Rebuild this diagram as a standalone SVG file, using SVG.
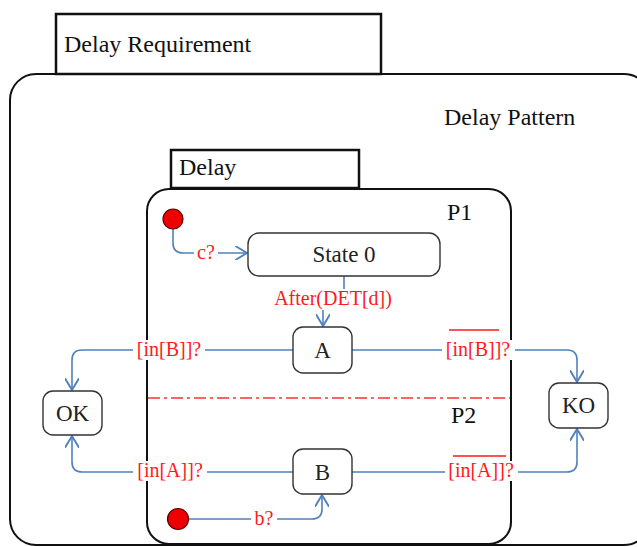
<svg xmlns="http://www.w3.org/2000/svg" width="637" height="547" viewBox="0 0 637 547">
<style>
text{font-family:"Liberation Serif","Times New Roman",serif}
.title{font-size:24px;fill:#111}
.node rect{fill:#fff;stroke:#333;stroke-width:1.4}
.node text{font-size:23px;fill:#222;text-anchor:middle}
.conn{fill:none;stroke:#4f81bd;stroke-width:1.6}
.lbl{font-size:20px;fill:#ff1a1a;text-anchor:middle}
.bg{fill:#fff}
.init{fill:#ee0000;stroke:#5a0000;stroke-width:1.2}
</style>
<defs>
<marker id="arr" markerUnits="userSpaceOnUse" markerWidth="14" markerHeight="14" refX="11" refY="6" orient="auto" viewBox="0 0 12 12">
<path d="M1,0 L11,6 L1,12" fill="none" stroke="#4f81bd" stroke-width="1.6"/>
</marker>
</defs>
<rect width="637" height="547" fill="#fff"/>

<g id="delay-pattern">
<rect x="10" y="74" width="640" height="471" rx="26" fill="none" stroke="#111" stroke-width="2"/>
<text class="title" x="444" y="125">Delay Pattern</text>
</g>
<g id="delay-requirement">
<rect x="56" y="14" width="325" height="60" fill="#fff" stroke="#111" stroke-width="2.5"/>
<text class="title" x="64" y="52">Delay Requirement</text>
</g>
<g id="delay">
<rect x="147" y="189" width="364" height="355" rx="22" fill="none" stroke="#111" stroke-width="2"/>
<rect x="171" y="150" width="188" height="38" fill="#fff" stroke="#111" stroke-width="2.5"/>
<text class="title" x="179" y="175">Delay</text>
<text class="title" x="447" y="220">P1</text>
<text class="title" x="451" y="423">P2</text>
<line x1="148" y1="398" x2="510" y2="398" stroke="#ff3030" stroke-width="1.6" stroke-dasharray="12,4,3,4"/>
</g>

<g id="connectors">
<path class="conn" d="M173,229 V243 Q173,253 183,253 H247" marker-end="url(#arr)"/>
<path class="conn" d="M344,276 V300 H323 V326" marker-end="url(#arr)"/>
<path class="conn" d="M293,350 H82 Q72,350 72,360 V390" marker-end="url(#arr)"/>
<path class="conn" d="M352,350 H567 Q577,350 577,360 V382" marker-end="url(#arr)"/>
<path class="conn" d="M293,472 H82 Q72,472 72,462 V436" marker-end="url(#arr)"/>
<path class="conn" d="M352,472 H567 Q577,472 577,462 V429" marker-end="url(#arr)"/>
<path class="conn" d="M189,519 H312 Q322,519 322,509 V495" marker-end="url(#arr)"/>

<rect class="bg" x="194" y="243" width="24" height="20"/>
<text class="lbl" x="206" y="259">c?</text>
<rect class="bg" x="271" y="289" width="124" height="21"/>
<text class="lbl" x="333" y="305">After(DET[d])</text>
<rect class="bg" x="133" y="340" width="72" height="20"/>
<text class="lbl" x="169" y="356">[in[B]]?</text>
<rect class="bg" x="442" y="340" width="73" height="20"/>
<text class="lbl" x="478" y="356">[in[B]]?</text>
<line x1="449" y1="330" x2="499" y2="330" stroke="#ff1a1a" stroke-width="1.6"/>
<rect class="bg" x="133" y="461" width="74" height="20"/>
<text class="lbl" x="170" y="477">[in[A]]?</text>
<rect class="bg" x="445" y="461" width="73" height="20"/>
<text class="lbl" x="481" y="477">[in[A]]?</text>
<line x1="453" y1="456" x2="506" y2="456" stroke="#ff1a1a" stroke-width="1.6"/>
<rect class="bg" x="251" y="510" width="26" height="19"/>
<text class="lbl" x="264" y="525">b?</text>
</g>

<g id="init-p1"><circle class="init" cx="173" cy="219" r="10"/></g>
<g id="init-p2"><circle class="init" cx="178" cy="519" r="10.5"/></g>
<g id="state0" class="node"><rect x="248" y="233" width="192" height="43" rx="11"/><text x="344" y="262">State 0</text></g>
<g id="A" class="node"><rect x="293" y="327" width="59" height="46" rx="10"/><text x="322.5" y="358">A</text></g>
<g id="B" class="node"><rect x="293" y="449" width="59" height="45" rx="10"/><text x="322.5" y="480">B</text></g>
<g id="OK" class="node"><rect x="43" y="391" width="59" height="44" rx="10"/><text x="72.5" y="421">OK</text></g>
<g id="KO" class="node"><rect x="549" y="383" width="59" height="45" rx="10"/><text x="578.5" y="413">KO</text></g>
</svg>
